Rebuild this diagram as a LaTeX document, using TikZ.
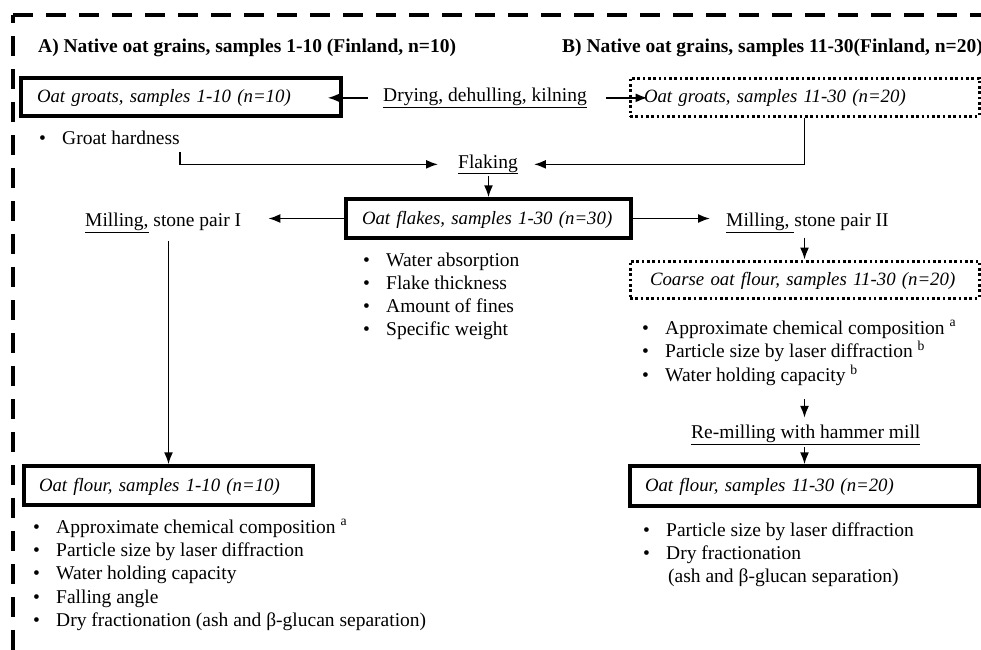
\documentclass[tikz,border=0pt]{standalone}
\usepackage{fontspec}
\setmainfont{Liberation Serif}
\usetikzlibrary{arrows.meta}
\newcommand\bl{\makebox[23pt][l]{\textbullet}}
\begin{document}
\begin{tikzpicture}[x=1pt,y=-1pt,
  every node/.style={font=\fontsize{19.5}{23}\selectfont, inner sep=0pt},
  boxbase/.style={align=left, font=\fontsize{18.8}{23}\selectfont\itshape, text height=14pt, text depth=3pt, inner ysep=0pt},
  thickbox/.style={boxbase, draw, line width=3.5pt},
  dotbox/.style={boxbase, draw, line width=3pt, dash pattern=on 2.6pt off 2.7pt},
  lbl/.style={anchor=base west},
  hdr/.style={anchor=base west, font=\fontsize{19.5}{23}\selectfont\bfseries},
  arr/.style={-{Latex[length=12pt,width=9pt]}, line width=1.6pt},
  frame/.style={line width=4pt, dash pattern=on 20pt off 13pt}
]
\clip (0,0) rectangle (981,649);
\fill[white] (0,0) rectangle (981,649);
% dashed frame
\draw[frame] (13,15) -- (1010,15);
\draw[frame, dash phase=12pt] (13,15) -- (13,700);

% headers
\node[hdr] (hdrA) at (38,52.5) {A) Native oat grains, samples 1-10 (Finland, n=10)};
\node[hdr] (hdrB) at (562,52.5) {B) Native oat grains, samples 11-30(Finland, n=20)};

% boxes
\node[thickbox, minimum height=38pt, text width=288pt, inner xsep=16pt] (groatsA) at (181,97) {\mbox{Oat groats, samples 1-10 (n=10)}};
\node[dotbox, minimum height=38pt, text width=321pt, inner xsep=14pt] (groatsB) at (804.5,97) {\mbox{Oat groats, samples 11-30 (n=20)}};
\node[thickbox, minimum height=39pt, text width=253pt, inner xsep=16pt] (flakes) at (488.5,218.5) {\mbox{Oat flakes, samples 1-30 (n=30)}};
\node[dotbox, minimum height=37pt, text width=309pt, inner xsep=20pt] (coarse) at (804.5,279.5) {\mbox{Coarse oat flour, samples 11-30 (n=20)}};
\node[thickbox, minimum height=39pt, text width=259pt, inner xsep=15pt] (flourA) at (168.5,485.5) {\mbox{Oat flour, samples 1-10 (n=10)}};
\node[thickbox, minimum height=40pt, text width=319pt, inner xsep=15pt] (flourB) at (804.5,486) {\mbox{Oat flour, samples 11-30 (n=20)}};

% process labels
\node[lbl] (drying) at (383,101.5) {\underline{Drying, dehulling, kilning}};
\node[lbl] (flaking) at (458,168) {\underline{Flaking}};
\node[lbl] (mill1) at (85,226.5) {\underline{Milling,} stone pair I};
\node[lbl] (mill2) at (726,226.5) {\underline{Milling, }stone pair II};
\node[lbl] (remill) at (691,438.5) {\underline{Re-milling with hammer mill}};

% lists
\node[lbl] (hardness) at (39,144) {\begin{tabular}[t]{@{}l@{}}\bl Groat hardness\end{tabular}};
\node[lbl] (flist) at (363,266) {\begin{tabular}[t]{@{}l@{}}\bl Water absorption\\ \bl Flake thickness\\ \bl Amount of fines\\ \bl Specific weight\end{tabular}};
\node[lbl, font=\fontsize{19.5}{23.3}\selectfont] (clist) at (642,334) {\begin{tabular}[t]{@{}l@{}}\bl Approximate chemical composition \textsuperscript{a}\\ \bl Particle size by laser diffraction \textsuperscript{b}\\ \bl Water holding capacity \textsuperscript{b}\end{tabular}};
\node[lbl, font=\fontsize{19.5}{23.4}\selectfont] (alist) at (33,533) {\begin{tabular}[t]{@{}l@{}}\bl Approximate chemical composition \textsuperscript{a}\\ \bl Particle size by laser diffraction\\ \bl Water holding capacity\\ \bl Falling angle\\ \bl Dry fractionation (ash and β-glucan separation)\end{tabular}};
\node[lbl] (blist) at (643,536.5) {\begin{tabular}[t]{@{}l@{}}\bl Particle size by laser diffraction\\ \bl Dry fractionation\\ \hspace*{25pt}(ash and β-glucan separation)\end{tabular}};

% connectors
\draw[arr] ([xshift=-15pt]drying.west) -- ([xshift=-15pt]drying.west -| groatsA.east);
\draw[arr] ([xshift=19pt]drying.east) -- ([xshift=19pt]drying.east -| groatsB.west);
\coordinate (h1) at (180,152);
\draw[arr] (h1) |- ([xshift=-20pt]flaking.west);
\draw[arr] (groatsB.south) |- ([xshift=16pt]flaking.east);
\draw[arr] ([yshift=-2pt]flaking.south -| flakes.north) -- (flakes.north);
\draw[arr] (flakes.west) -- ([xshift=27pt]mill1.east |- flakes.west);
\draw[arr] (flakes.east) -- ([xshift=-16pt]mill2.west |- flakes.east);
\draw[arr] ([yshift=-5pt]mill2.south -| coarse.north) -- (coarse.north);
\draw[arr] ([yshift=-8pt]mill1.south -| flourA.north) -- (flourA.north);
\coordinate (c1) at (804.5,399);
\draw[arr] (c1) -- ([yshift=7pt]remill.north -| c1);
\draw[arr] ([yshift=-2pt]remill.south -| flourB.north) -- (flourB.north);
\end{tikzpicture}
\end{document}
